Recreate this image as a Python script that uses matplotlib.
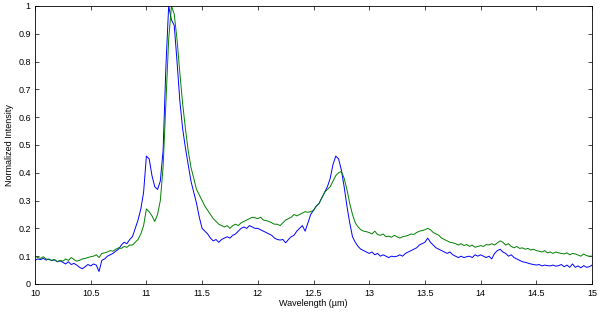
import numpy as np
import matplotlib
matplotlib.use("Agg")
import matplotlib.pyplot as plt

plt.rcParams['font.family'] = ['Liberation Sans', 'DejaVu Sans']

# wavelength grid, 0.025 um steps from 10 to 15
wavelength = np.linspace(10, 15, 201)

blue_spec = [
    0.085, 0.09, 0.088, 0.092, 0.086, 0.09, 0.084, 0.087, 0.08, 0.083,
    0.078, 0.072, 0.08, 0.07, 0.074, 0.068, 0.06, 0.055, 0.062, 0.07,
    0.065, 0.072, 0.068, 0.045, 0.085, 0.09, 0.1, 0.105, 0.11, 0.118,
    0.125, 0.14, 0.15, 0.145, 0.16, 0.17, 0.2, 0.23, 0.27, 0.33,
    0.46, 0.45, 0.39, 0.35, 0.34, 0.37, 0.48, 0.78, 1.0, 0.95,
    0.93, 0.80, 0.66, 0.56, 0.49, 0.43, 0.37, 0.33, 0.29, 0.24,
    0.2, 0.19, 0.18, 0.165, 0.155, 0.16, 0.15, 0.16, 0.165, 0.17,
    0.165, 0.175, 0.18, 0.19, 0.2, 0.205, 0.2, 0.21, 0.205, 0.2,
    0.2, 0.195, 0.19, 0.185, 0.18, 0.175, 0.165, 0.16, 0.158, 0.16,
    0.148, 0.16, 0.17, 0.175, 0.19, 0.2, 0.21, 0.19, 0.22, 0.25,
    0.265, 0.28, 0.29, 0.31, 0.33, 0.35, 0.38, 0.43, 0.46, 0.45,
    0.41, 0.35, 0.28, 0.22, 0.17, 0.15, 0.135, 0.125, 0.12, 0.115,
    0.11, 0.115, 0.105, 0.11, 0.1, 0.105, 0.1, 0.095, 0.1, 0.098,
    0.1, 0.105, 0.1, 0.11, 0.115, 0.12, 0.125, 0.13, 0.14, 0.145,
    0.15, 0.165, 0.15, 0.14, 0.13, 0.125, 0.12, 0.115, 0.11, 0.115,
    0.105, 0.1, 0.095, 0.1, 0.095, 0.098, 0.1, 0.095, 0.105, 0.1,
    0.105, 0.1, 0.095, 0.1, 0.09, 0.11, 0.12, 0.125, 0.115, 0.11,
    0.1, 0.105, 0.095, 0.09, 0.085, 0.08, 0.078, 0.075, 0.072, 0.07,
    0.068, 0.07, 0.065, 0.068, 0.066, 0.065, 0.068, 0.064, 0.066, 0.07,
    0.062, 0.068, 0.06, 0.072, 0.06, 0.065, 0.058, 0.066, 0.06, 0.062,
    0.068,
]

green_spec = [
    0.1, 0.095, 0.092, 0.098, 0.09, 0.088, 0.085, 0.088, 0.08, 0.085,
    0.082, 0.09, 0.085, 0.095, 0.088, 0.082, 0.085, 0.09, 0.092, 0.095,
    0.098, 0.1, 0.105, 0.095, 0.11, 0.112, 0.115, 0.12, 0.118, 0.125,
    0.13, 0.128, 0.135, 0.132, 0.14, 0.14, 0.15, 0.16, 0.18, 0.21,
    0.27, 0.26, 0.245, 0.225, 0.25, 0.3, 0.42, 0.65, 0.88, 1.0,
    0.97, 0.88, 0.76, 0.65, 0.56, 0.48, 0.42, 0.38, 0.34, 0.32,
    0.30, 0.28, 0.265, 0.25, 0.235, 0.225, 0.215, 0.21, 0.205, 0.21,
    0.2, 0.21, 0.215, 0.21, 0.22, 0.225, 0.23, 0.235, 0.24, 0.238,
    0.235, 0.24, 0.23, 0.228, 0.225, 0.22, 0.215, 0.215, 0.21, 0.22,
    0.23, 0.235, 0.24, 0.25, 0.245, 0.25, 0.255, 0.26, 0.258, 0.26,
    0.265, 0.28, 0.29, 0.31, 0.33, 0.34, 0.35, 0.37, 0.39, 0.40,
    0.405, 0.38, 0.34, 0.29, 0.25, 0.22, 0.205, 0.195, 0.19, 0.188,
    0.185, 0.18, 0.19, 0.178, 0.175, 0.18, 0.17, 0.172, 0.168, 0.175,
    0.17, 0.165, 0.17, 0.172, 0.175, 0.18, 0.178, 0.185, 0.19, 0.192,
    0.195, 0.2, 0.195, 0.185, 0.18, 0.175, 0.165, 0.16, 0.155, 0.15,
    0.148, 0.145, 0.14, 0.145, 0.138, 0.142, 0.135, 0.14, 0.132, 0.135,
    0.138, 0.135, 0.142, 0.14, 0.145, 0.14, 0.148, 0.155, 0.15, 0.14,
    0.145, 0.135, 0.13, 0.135, 0.128, 0.13, 0.125, 0.128, 0.122, 0.125,
    0.12, 0.118, 0.115, 0.12, 0.112, 0.115, 0.11, 0.115, 0.112, 0.11,
    0.108, 0.112, 0.105, 0.11, 0.108, 0.104, 0.1, 0.108, 0.102, 0.1,
    0.1,
]

x_ticks = [10, 10.5, 11, 11.5, 12, 12.5, 13, 13.5, 14, 14.5, 15]
y_ticks = [0, 0.1, 0.2, 0.3, 0.4, 0.5, 0.6, 0.7, 0.8, 0.9, 1]

fig = plt.figure(figsize=(6, 3.13), dpi=100)
ax = fig.add_axes([0.0583, 0.0927, 0.9284, 0.8883])

ax.plot(wavelength, blue_spec, color='#0000ff', lw=0.7)
ax.plot(wavelength, green_spec, color='#008000', lw=0.7)

ax.set_xlim(10, 15)
ax.set_ylim(0, 1)
ax.set_xticks(x_ticks)
ax.set_xticklabels([f"{t:g}" for t in x_ticks])
ax.set_yticks(y_ticks)
ax.set_yticklabels([f"{t:g}" for t in y_ticks])
ax.tick_params(direction='in', top=True, right=True, length=3, width=0.5,
               labelsize=6.5)
ax.tick_params(axis='x', pad=3.5)
ax.tick_params(axis='y', pad=3)
for s in ax.spines.values():
    s.set_linewidth(0.6)

ax.set_xlabel("Wavelength (\u00b5m)", fontsize=6.5, labelpad=0.5)
ax.set_ylabel("Normalized Intensity", fontsize=6.5, labelpad=3)

fig.savefig("out.png", dpi=100)
